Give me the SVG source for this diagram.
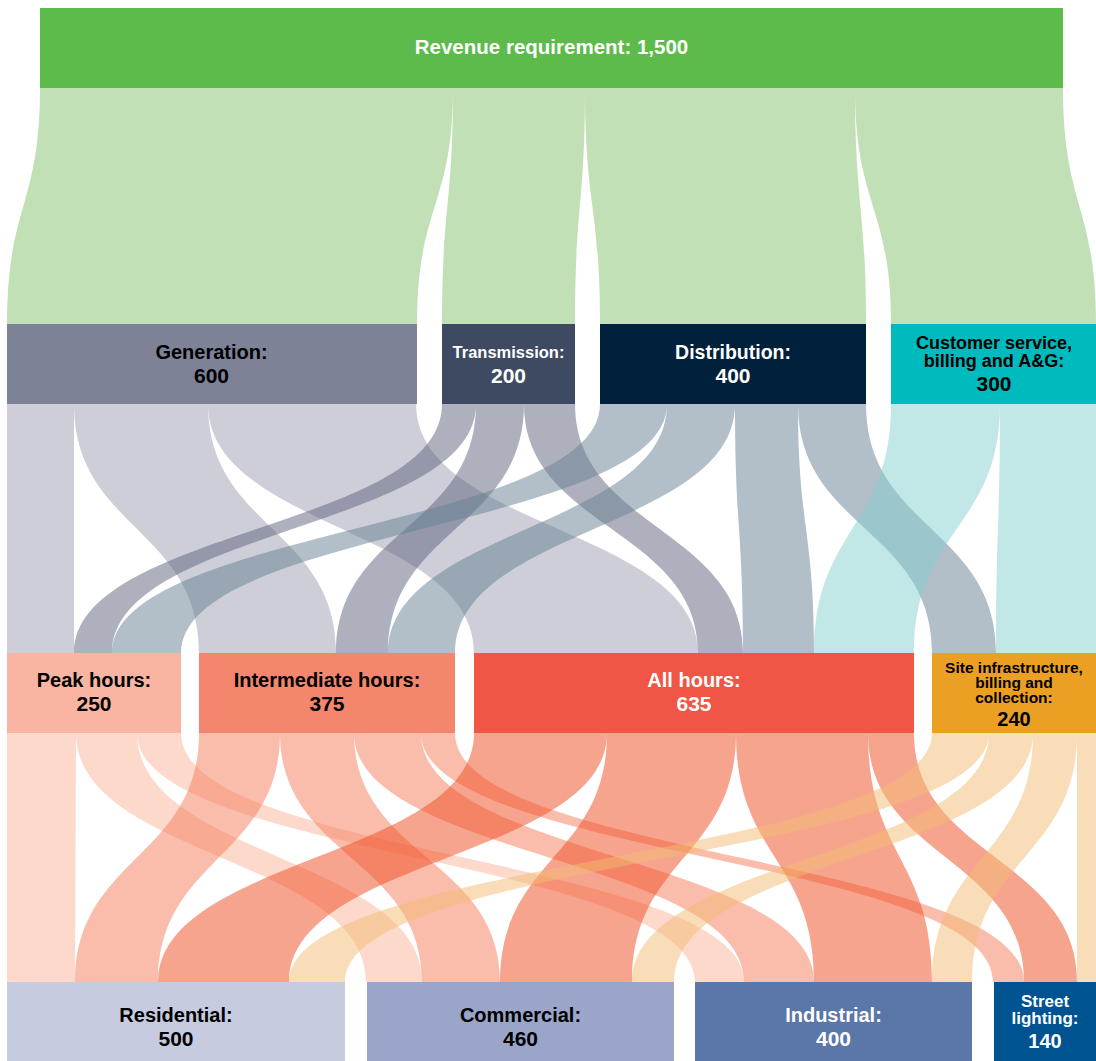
<svg xmlns="http://www.w3.org/2000/svg" width="1096" height="1061" viewBox="0 0 1096 1061">
<style>
text{font-family:"Liberation Sans",Arial,sans-serif;font-weight:bold;text-anchor:middle}
.lbl{font-size:20px}
.num{font-size:21px}
.w{fill:#ffffff}
.k{fill:#000000}
.fg{fill:#c1e0b5}
.f-gen{fill:#9b9db1;fill-opacity:0.5}
.f-tr{fill:#5d617b;fill-opacity:0.5}
.f-di{fill:#657f91;fill-opacity:0.5}
.f-cu{fill:#83cfcf;fill-opacity:0.5}
.f-pk{fill:#fbb399;fill-opacity:0.5}
.f-in{fill:#f57b59;fill-opacity:0.5}
.f-al{fill:#ef491f;fill-opacity:0.5}
.f-si{fill:#f1bb71;fill-opacity:0.5}
</style>
<rect x="0" y="0" width="1096" height="1061" fill="#ffffff"/>
<g id="connectors">
  <g id="flows-revenue">
    <path class="fg" d="M40 88 C40 206 7 206 7 324 L417 324 C417 206 453 206 453 88 Z"/>
    <path class="fg" d="M453 88 C453 206 442 206 442 324 L575 324 C575 206 585 206 585 88 Z"/>
    <path class="fg" d="M585 88 C585 206 600 206 600 324 L866 324 C866 206 855 206 855 88 Z"/>
    <path class="fg" d="M855 88 C855 206 891 206 891 324 L1096 324 C1096 206 1063 206 1063 88 Z"/>
  </g>
  <g id="flows-generation">
    <path class="f-gen" d="M7 404 L7 653 L74 653 L74 404 Z"/>
    <path class="f-gen" d="M74 404 C74 528.5 199 528.5 199 653 L336 653 C336 528.5 208 528.5 208 404 Z"/>
    <path class="f-gen" d="M208 404 C208 528.5 474 528.5 474 653 L698 653 C698 528.5 416 528.5 416 404 Z"/>
  </g>
  <g id="flows-transmission">
    <path class="f-tr" d="M442 404 C442 528.5 74 528.5 74 653 L112 653 C112 528.5 476 528.5 476 404 Z"/>
    <path class="f-tr" d="M476 404 C476 528.5 336 528.5 336 653 L388 653 C388 528.5 524 528.5 524 404 Z"/>
    <path class="f-tr" d="M524 404 C524 528.5 698 528.5 698 653 L743 653 C743 528.5 575 528.5 575 404 Z"/>
  </g>
  <g id="flows-distribution">
    <path class="f-di" d="M600 404 C600 528.5 112 528.5 112 653 L181 653 C181 528.5 667 528.5 667 404 Z"/>
    <path class="f-di" d="M667 404 C667 528.5 388 528.5 388 653 L455 653 C455 528.5 735 528.5 735 404 Z"/>
    <path class="f-di" d="M735 404 C735 528.5 743 528.5 743 653 L814 653 C814 528.5 798 528.5 798 404 Z"/>
    <path class="f-di" d="M798 404 C798 528.5 932 528.5 932 653 L996 653 C996 528.5 866 528.5 866 404 Z"/>
  </g>
  <g id="flows-customer">
    <path class="f-cu" d="M891 404 C891 528.5 814 528.5 814 653 L914 653 C914 528.5 1000 528.5 1000 404 Z"/>
    <path class="f-cu" d="M1000 404 C1000 528.5 996 528.5 996 653 L1096 653 L1096 404 Z"/>
  </g>
  <g id="flows-peak">
    <path class="f-pk" d="M7 733 L7 982 L75 982 L76 733 Z"/>
    <path class="f-pk" d="M76 733 C76 857.5 366 857.5 366 982 L422 982 C422 857.5 137 857.5 137 733 Z"/>
    <path class="f-pk" d="M137 733 C137 857.5 695 857.5 695 982 L744 982 C744 857.5 181 857.5 181 733 Z"/>
  </g>
  <g id="flows-intermediate">
    <path class="f-in" d="M199 733 C199 857.5 75 857.5 75 982 L158 982 C158 857.5 280 857.5 280 733 Z"/>
    <path class="f-in" d="M280 733 C280 857.5 422 857.5 422 982 L500 982 C500 857.5 354 857.5 354 733 Z"/>
    <path class="f-in" d="M354 733 C354 857.5 744 857.5 744 982 L814 982 C814 857.5 421 857.5 421 733 Z"/>
    <path class="f-in" d="M421 733 C421 857.5 993 857.5 993 982 L1024 982 C1024 857.5 455 857.5 455 733 Z"/>
  </g>
  <g id="flows-allhours">
    <path class="f-al" d="M474 733 C474 857.5 158 857.5 158 982 L289 982 C289 857.5 607 857.5 607 733 Z"/>
    <path class="f-al" d="M607 733 C607 857.5 500 857.5 500 982 L632 982 C632 857.5 736 857.5 736 733 Z"/>
    <path class="f-al" d="M736 733 C736 857.5 814 857.5 814 982 L932 982 C932 857.5 868 857.5 868 733 Z"/>
    <path class="f-al" d="M868 733 C868 857.5 1024 857.5 1024 982 L1077 982 C1077 857.5 914 857.5 914 733 Z"/>
  </g>
  <g id="flows-site">
    <path class="f-si" d="M932 733 C932 857.5 289 857.5 289 982 L345 982 C345 857.5 989 857.5 989 733 Z"/>
    <path class="f-si" d="M989 733 C989 857.5 632 857.5 632 982 L674 982 C674 857.5 1033 857.5 1033 733 Z"/>
    <path class="f-si" d="M1033 733 C1033 857.5 932 857.5 932 982 L972 982 C972 857.5 1077 857.5 1077 733 Z"/>
    <path class="f-si" d="M1077 733 L1077 982 L1096 982 L1096 733 Z"/>
  </g>
</g>
<g id="node-revenue">
  <rect x="40" y="8" width="1023" height="80" fill="#5cbb4a"/>
  <text class="w" x="551.5" y="54" style="font-size:20.5px">Revenue requirement: 1,500</text>
</g>
<g id="node-generation">
  <rect x="7" y="324" width="410" height="80" fill="#7e8297"/>
  <text class="k lbl" x="211.5" y="359">Generation:</text>
  <text class="k num" x="211.5" y="382.5">600</text>
</g>
<g id="node-transmission">
  <rect x="442" y="324" width="133" height="80" fill="#3d4a62"/>
  <text class="w" x="508.5" y="357.5" style="font-size:16.5px">Transmission:</text>
  <text class="w num" x="508.5" y="382.5">200</text>
</g>
<g id="node-distribution">
  <rect x="600" y="324" width="266" height="80" fill="#00203c"/>
  <text class="w" x="733" y="359" style="font-size:19.5px">Distribution:</text>
  <text class="w num" x="733" y="382.5">400</text>
</g>
<g id="node-customer">
  <rect x="891" y="324" width="205" height="80" fill="#00bbbd"/>
  <text class="k" x="994" y="349" style="font-size:18px">Customer service,</text>
  <text class="k" x="994" y="367" style="font-size:18px">billing and A&amp;G:</text>
  <text class="k num" x="994" y="391">300</text>
</g>
<g id="node-peak">
  <rect x="7" y="653" width="174" height="80" fill="#f9b5a2"/>
  <text class="k lbl" x="94" y="687">Peak hours:</text>
  <text class="k num" x="94" y="711">250</text>
</g>
<g id="node-intermediate">
  <rect x="199" y="653" width="256" height="80" fill="#f4866e"/>
  <text class="k lbl" x="327" y="687">Intermediate hours:</text>
  <text class="k num" x="327" y="711">375</text>
</g>
<g id="node-allhours">
  <rect x="474" y="653" width="440" height="80" fill="#f05545"/>
  <text class="w lbl" x="694" y="687">All hours:</text>
  <text class="w num" x="694" y="711">635</text>
</g>
<g id="node-site">
  <rect x="932" y="653" width="164" height="80" fill="#eba023"/>
  <text class="k" x="1014" y="672.5" style="font-size:15.5px">Site infrastructure,</text>
  <text class="k" x="1014" y="687.5" style="font-size:15.5px">billing and</text>
  <text class="k" x="1014" y="702.5" style="font-size:15.5px">collection:</text>
  <text class="k" x="1014" y="726" style="font-size:20px">240</text>
</g>
<g id="node-residential">
  <rect x="7" y="982" width="338" height="79" fill="#c7cbe0"/>
  <text class="k lbl" x="176" y="1021.5">Residential:</text>
  <text class="k num" x="176" y="1046">500</text>
</g>
<g id="node-commercial">
  <rect x="367" y="982" width="307" height="79" fill="#9aa5c9"/>
  <text class="k lbl" x="520.5" y="1021.5">Commercial:</text>
  <text class="k num" x="520.5" y="1046">460</text>
</g>
<g id="node-industrial">
  <rect x="695" y="982" width="277" height="79" fill="#5b76a8"/>
  <text class="w lbl" x="833.5" y="1021.5">Industrial:</text>
  <text class="w num" x="833.5" y="1046">400</text>
</g>
<g id="node-street">
  <rect x="994" y="982" width="102" height="79" fill="#005391"/>
  <text class="w" x="1045" y="1006.5" style="font-size:17px">Street</text>
  <text class="w" x="1045" y="1023.5" style="font-size:17px">lighting:</text>
  <text class="w" x="1045" y="1048" style="font-size:20px">140</text>
</g>
</svg>
